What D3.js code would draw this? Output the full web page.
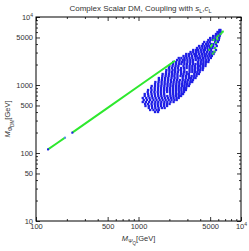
<!DOCTYPE html>
<html>
<head>
<meta charset="utf-8">
<script src="https://cdn.jsdelivr.net/npm/d3@7"></script>
<style>
body { margin: 0; background: #fff; }
text { font-family: "Liberation Sans", Arial, sans-serif; }
</style>
</head>
<body>
<div class="chart"></div>
<script>
// axis ticks
var xMajor = [100, 500, 1000, 5000, 10000]
var xMinor = [200, 300, 400, 600, 700, 800, 900, 2000, 3000, 4000, 6000, 7000, 8000, 9000]
var yMajor = [10, 50, 100, 500, 1000, 5000, 10000]
var yMinor = [20, 30, 40, 60, 70, 80, 90, 200, 300, 400, 600, 700, 800, 900, 2000, 3000, 4000, 6000, 7000, 8000, 9000]

// green line (M_PsiQ, M_PhiDM) in GeV, two pieces
var lineQ1 = [131, 160, 192]
var lineDM1 = [113, 139, 168]
var lineQ2 = [226, 500, 1000, 2270]
var lineDM2 = [199, 460, 957, 2275]

// blue dots at the line ends
var endQ = [131, 192, 226]
var endDM = [113, 168, 199]

// blue scatter, one row per M_PhiDM value
var rowDM = [6439, 6017, 5623, 5256, 4912, 4590, 4290, 4009, 3746, 3501, 3272, 3057, 2857, 2670, 2495, 2331, 2179, 2036, 1903, 1778, 1662, 1553, 1451, 1356, 1267, 1184, 1107, 1034, 967, 903, 844, 789, 737, 689, 644, 602, 562, 526, 491, 459, 429, 401]
var rowQ = [
  [6150, 6300],
  [5900, 6120, 6330],
  [5700, 6000, 6280],
  [5350, 5650, 5900, 6200],
  [5000, 5300, 5620, 6120],
  [4800, 5050, 5350, 5600, 5900, 6080],
  [4380, 4700, 4950, 5600, 5950],
  [4250, 4550, 4800, 5100, 5380, 5700],
  [3900, 4150, 4400, 4650, 4900, 5350, 5800],
  [3720, 3950, 4200, 4450, 4700, 5000, 5250, 5550],
  [3420, 3640, 3800, 4050, 4300, 4450, 4750, 5100, 5700],
  [3220, 3420, 3650, 3850, 4100, 4350, 4650, 4950, 5250, 5500],
  [2920, 3100, 3280, 3500, 3650, 3900, 4150, 4400, 4600, 4900, 5150, 5400],
  [2750, 2920, 3100, 3320, 3550, 3700, 3950, 4200, 4450, 4700, 4950, 5200],
  [2470, 2620, 2800, 2950, 3150, 3350, 3600, 3800, 4000, 4250, 4500, 4800, 5080],
  [2380, 2520, 2700, 2820, 3000, 3200, 3400, 3620, 3850, 4100, 4300, 4580, 4850],
  [2180, 2330, 2500, 2650, 2800, 3000, 3200, 3400, 3800, 4050, 4300, 4550, 4800],
  [2170, 2320, 2480, 2620, 2800, 2970, 3180, 3400, 3600, 3820, 4050, 4280, 4520],
  [2000, 2150, 2300, 2450, 2750, 2950, 3150, 3350, 3550, 3800, 4000, 4250, 4500],
  [1980, 2120, 2270, 2420, 2600, 2780, 2950, 3150, 3350, 3570, 3800, 4030, 4270],
  [1870, 2000, 2150, 2280, 2450, 2600, 2800, 3150, 3350, 3550, 3800, 4000, 4230],
  [1860, 2000, 2130, 2270, 2420, 2600, 2780, 2950, 3150, 3350, 3550, 3750, 3950],
  [1720, 1850, 1980, 2120, 2250, 2400, 2600, 2750, 2950, 3100, 3500, 3700, 3880],
  [1710, 1840, 1970, 2110, 2240, 2400, 2570, 2720, 2900, 3100, 3300, 3500, 3680],
  [1580, 1700, 1820, 1950, 2100, 2250, 2400, 2700, 2900, 3100, 3250, 3450, 3600],
  [1580, 1690, 1810, 1940, 2070, 2220, 2370, 2530, 2700, 2870, 3050, 3230, 3400],
  [1460, 1570, 1680, 1800, 1930, 2070, 2200, 2350, 2500, 2680, 2850, 3000, 3200, 3340],
  [1450, 1560, 1680, 1800, 1920, 2050, 2190, 2340, 2500, 2660, 2820, 2980, 3150],
  [1345, 1450, 1560, 1670, 1790, 1920, 2050, 2180, 2330, 2480, 2650, 2800, 2950, 3100],
  [1330, 1440, 1550, 1660, 1780, 1900, 2030, 2170, 2320, 2470, 2620, 2780, 2920],
  [1240, 1340, 1440, 1550, 1660, 1780, 1900, 2030, 2170, 2320, 2470, 2620, 2780, 2900],
  [1230, 1330, 1430, 1540, 1650, 1770, 1900, 2030, 2170, 2320, 2480, 2630, 2780],
  [1150, 1240, 1340, 1440, 1550, 1660, 1780, 2040, 2180, 2330, 2470, 2620, 2720],
  [1150, 1250, 1350, 1450, 1560, 1670, 1790, 1910, 2050, 2190, 2330, 2480, 2600],
  [1100, 1190, 1280, 1370, 1470, 1580, 1690, 1810, 1940, 2070, 2200, 2350, 2470],
  [1125, 1210, 1300, 1400, 1500, 1610, 1720, 1840, 1970, 2100, 2240, 2360],
  [1100, 1180, 1270, 1360, 1460, 1560, 1670, 1790, 1910, 2050, 2200],
  [1160, 1240, 1340, 1440, 1540, 1650, 1770, 1890, 2010],
  [1170, 1260, 1350, 1450, 1550, 1660, 1780, 1900],
  [1260, 1360, 1460, 1570, 1690, 1800],
  [1300, 1400, 1500, 1580],
  [1450, 1550]
]

// green points mixed into the top right of the blob
var greenQ = [4900, 5100, 5200, 5300, 5400, 5500, 5600, 5700, 5800, 5900, 6000, 6300, 6500, 6650]
var greenDM = [3300, 3700, 3900, 2900, 4600, 3100, 3500, 4200, 5000, 4700, 5300, 5600, 5900, 6100]

var width = 249, height = 251
var pl = 36, pr = 241, pt = 17, pb = 221

const svg = d3.select('.chart')
    .append('svg')
    .attr("width", width)
    .attr("height", height)

var x = d3.scaleLog().domain([100, 10000]).range([pl, pr])
var y = d3.scaleLog().domain([10, 10000]).range([pb, pt])

var clip = svg.append("clipPath").attr("id", "plotclip")
clip.append("rect")
    .attr("x", pl).attr("y", pt)
    .attr("width", pr - pl).attr("height", pb - pt)

var plot = svg.append("g").attr("clip-path", "url(#plotclip)")

var line = d3.line()
    .x(function(d){ return x(d[0]) })
    .y(function(d){ return y(d[1]) })

function drawLine(qs, dms){
    plot.append("path")
        .attr("d", line(qs.map(function(q, i){ return [q, dms[i]] })))
        .attr("fill", "none")
        .attr("stroke", "#2ee82e")
        .attr("stroke-width", 2)
}

// blue scatter
var bluePts = []
rowDM.forEach(function(dm, i){
    rowQ[i].forEach(function(q){ bluePts.push([q, dm]) })
})

plot.append("g")
    .selectAll("rect")
    .data(bluePts)
    .enter()
    .append("rect")
    .attr("x", function(d){ return x(d[0]) - 1.15 })
    .attr("y", function(d){ return y(d[1]) - 1.15 })
    .attr("width", 2.3)
    .attr("height", 2.3)
    .attr("fill", "#1f1fe6")

drawLine(lineQ1, lineDM1)
drawLine(lineQ2, lineDM2)

plot.append("g")
    .selectAll("rect")
    .data(greenQ.map(function(q, i){ return [q, greenDM[i]] }))
    .enter()
    .append("rect")
    .attr("x", function(d){ return x(d[0]) - 1 })
    .attr("y", function(d){ return y(d[1]) - 1 })
    .attr("width", 2)
    .attr("height", 2)
    .attr("fill", "#2ee82e")

plot.append("g")
    .selectAll("rect")
    .data(endQ.map(function(q, i){ return [q, endDM[i]] }))
    .enter()
    .append("rect")
    .attr("x", function(d){ return x(d[0]) - 1 })
    .attr("y", function(d){ return y(d[1]) - 1 })
    .attr("width", 2)
    .attr("height", 2)
    .attr("fill", function(d, i){ return i == 1 ? "#5a8cf0" : "#1f1fe6" })

// axes, ticks pointing inward on all four sides
function fmt(d){ return d == 10000 ? "10" : d3.format("d")(d) }

function axisPair(axisFn, scale, major, minor, pos, labels){
    var g = svg.append("g").attr("transform", pos)
    var a = axisFn(scale).tickValues(major).tickSizeInner(-4).tickSizeOuter(0).tickPadding(3)
    if (labels){ a.tickFormat(fmt) } else { a.tickFormat("") }
    g.call(a)
    var gm = svg.append("g").attr("transform", pos)
    gm.call(axisFn(scale).tickValues(minor).tickSizeInner(-2).tickSizeOuter(0).tickFormat(""))
    g.selectAll(".domain").remove()
    gm.selectAll(".domain").remove()
    g.selectAll("text").attr("font-size", 7.5).attr("fill", "#333")
        .attr("font-family", "Liberation Sans, Arial, sans-serif")
    g.selectAll(".tick line").attr("stroke", "#000").attr("stroke-width", 0.8)
    gm.selectAll(".tick line").attr("stroke", "#000").attr("stroke-width", 0.8)
    return g
}

var gx = axisPair(d3.axisBottom, x, xMajor, xMinor, "translate(0," + pb + ")", true)
axisPair(d3.axisTop, x, xMajor, xMinor, "translate(0," + pt + ")", false)
var gy = axisPair(d3.axisLeft, y, yMajor, yMinor, "translate(" + pl + ",0)", true)
axisPair(d3.axisRight, y, yMajor, yMinor, "translate(" + pr + ",0)", false)

// superscript 4 on the 10^4 labels
gx.selectAll("text").filter(function(d){ return d == 10000 })
    .append("tspan").attr("dy", -3).attr("font-size", 5).text("4")
gy.selectAll("text").filter(function(d){ return d == 10000 })
    .append("tspan").attr("dy", -3).attr("font-size", 5).text("4")

svg.append("rect")
    .attr("x", pl).attr("y", pt)
    .attr("width", pr - pl).attr("height", pb - pt)
    .attr("fill", "none")
    .attr("stroke", "#000")
    .attr("stroke-width", 1)

// title
var title = svg.append("text")
    .attr("x", (pl + pr) / 2 + 2)
    .attr("y", 11)
    .attr("text-anchor", "middle")
    .attr("font-size", 8)
    .attr("fill", "#333")
title.append("tspan").text("Complex Scalar DM, Coupling with ")
title.append("tspan").attr("font-style", "italic").text("s")
title.append("tspan").attr("font-size", 5.5).attr("dy", 2).text("L")
title.append("tspan").attr("dy", -2).text(",")
title.append("tspan").attr("font-style", "italic").text("c")
title.append("tspan").attr("font-size", 5.5).attr("dy", 2).text("L")

// x axis title
var xt = svg.append("text")
    .attr("x", (pl + pr) / 2)
    .attr("y", 241)
    .attr("text-anchor", "middle")
    .attr("font-size", 7.5)
    .attr("fill", "#333")
xt.append("tspan").attr("font-style", "italic").text("M")
xt.append("tspan").attr("font-size", 5.5).attr("dy", 2).attr("font-style", "italic").text("Ψ")
xt.append("tspan").attr("font-size", 4.5).attr("dy", 1.5).text("Q")
xt.append("tspan").attr("dy", -3.5).text("[GeV]")

// y axis title
var yt = svg.append("text")
    .attr("transform", "translate(10," + ((pt + pb) / 2) + ") rotate(-90)")
    .attr("text-anchor", "middle")
    .attr("font-size", 7.5)
    .attr("fill", "#333")
yt.append("tspan").attr("font-style", "italic").text("M")
yt.append("tspan").attr("font-size", 5.5).attr("dy", 2).attr("font-style", "italic").text("Φ")
yt.append("tspan").attr("font-size", 4.5).attr("dy", 1.5).text("DM")
yt.append("tspan").attr("dy", -3.5).text("[GeV]")
</script>
</body>
</html>
